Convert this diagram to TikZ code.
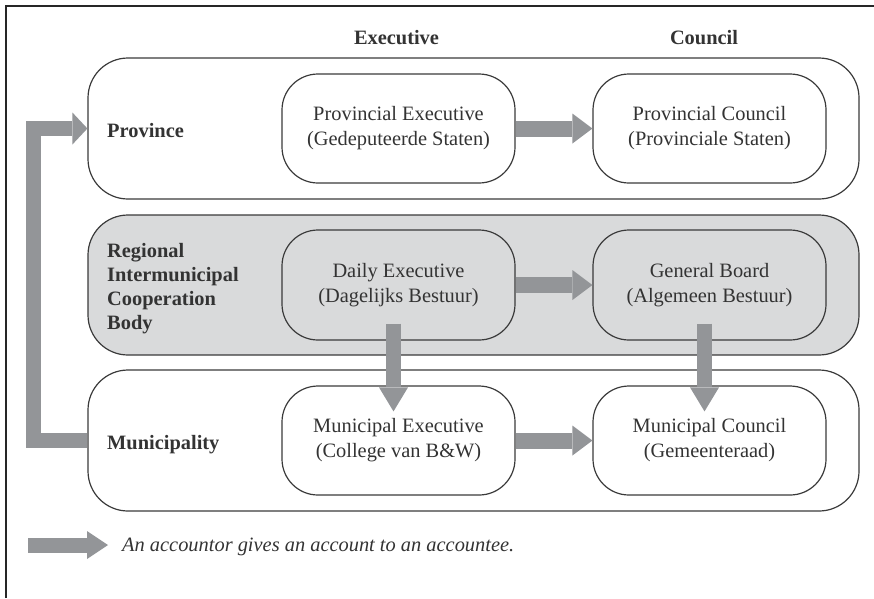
\documentclass[tikz,border=0pt]{standalone}
\usepackage{fontspec}
\setmainfont{Liberation Serif}
\usetikzlibrary{arrows.meta,calc}
\definecolor{arrowgray}{HTML}{939598}
\definecolor{regfill}{HTML}{D9DADB}
\definecolor{ink}{HTML}{333333}
\definecolor{linec}{HTML}{3A3A3A}
\begin{document}
\begin{tikzpicture}[x=1pt,y=-1pt,
  every node/.style={text=ink, font=\fontsize{20.4}{25}\selectfont},
  outerbox/.style={draw=linec, line width=1.2pt, rounded corners=40pt, minimum width=771pt, minimum height=141pt, inner sep=0pt},
  innerbox/.style={draw=linec, line width=1.2pt, rounded corners=36pt, minimum width=233pt, minimum height=109pt, align=center, inner sep=0pt},
  lab/.style={font=\fontsize{20.4}{24}\selectfont\bfseries, inner sep=0pt, align=left},
  fatarrow/.style={draw=arrowgray, line width=16pt, -{Triangle[length=20pt,width=30pt,line width=0pt]}},
]
\useasboundingbox (0,0) rectangle (874,598);
% frame (clipped on right and bottom)
\draw[line width=2pt, draw=black!85] (5.5,598) -- (5.5,5.5) -- (874,5.5);

% headers
\node[lab, anchor=base] (hexec) at (396.5,44) {Executive};
\node[lab, anchor=base] (hcoun) at (704,44) {Council};

% level boxes
\node[outerbox] (prov) at (473.5,128.5) {};
\node[outerbox, fill=regfill, minimum height=140pt] (reg) at (473.5,285) {};
\node[outerbox] (muni) at (473.5,440.5) {};

% level labels
\node[lab, anchor=base west] (lprov) at (107,137) {Province};
\node[lab, anchor=west] (lreg) at (107,288.5) {Regional\\Intermunicipal\\Cooperation\\Body};
\node[lab, anchor=base west] (lmuni) at (107,449.5) {Municipality};

% organ boxes
\node[innerbox] (pexec) at (398.5,128.5) {Provincial Executive\\(Gedeputeerde Staten)};
\node[innerbox] (pcoun) at (709.5,128.5) {Provincial Council\\(Provinciale Staten)};
\node[innerbox, minimum height=110pt] (dexec) at (398.5,285) {Daily Executive\\(Dagelijks Bestuur)};
\node[innerbox, minimum height=110pt] (board) at (709.5,285) {General Board\\(Algemeen Bestuur)};
\node[innerbox] (mexec) at (398.5,440.5) {Municipal Executive\\(College van B\&W)};
\node[innerbox] (mcoun) at (709.5,440.5) {Municipal Council\\(Gemeenteraad)};

% accountability arrows
\draw[fatarrow] (pexec.east) -- (pcoun.west);
\draw[fatarrow] (dexec.east) -- (board.west);
\draw[fatarrow] (mexec.east) -- (mcoun.west);
\draw[fatarrow, line width=15pt, -{Triangle[length=24pt,width=29pt,line width=0pt]}]
  ($(dexec.south)+(-5,-17)$) -- ($(mexec.north)+(-5,26)$);
\draw[fatarrow, line width=15pt, -{Triangle[length=24pt,width=29pt,line width=0pt]}]
  ($(board.south)+(-5,-17)$) -- ($(mcoun.north)+(-5,26)$);
\draw[fatarrow, line width=15pt, -{Triangle[length=15pt,width=32pt,line width=0pt]}]
  (muni.west) -- ++(-53.5,0) |- (prov.west);

% legend
\coordinate (la) at (28,545);
\coordinate (lb) at (108,545);
\draw[fatarrow, line width=15pt, -{Triangle[length=21pt,width=28pt,line width=0pt]}] (la) -- (lb);
\node[anchor=base west, inner sep=0pt, font=\fontsize{20.4}{25}\selectfont\itshape] (legtext) at (122,551) {An accountor gives an account to an accountee.};
\end{tikzpicture}
\end{document}
